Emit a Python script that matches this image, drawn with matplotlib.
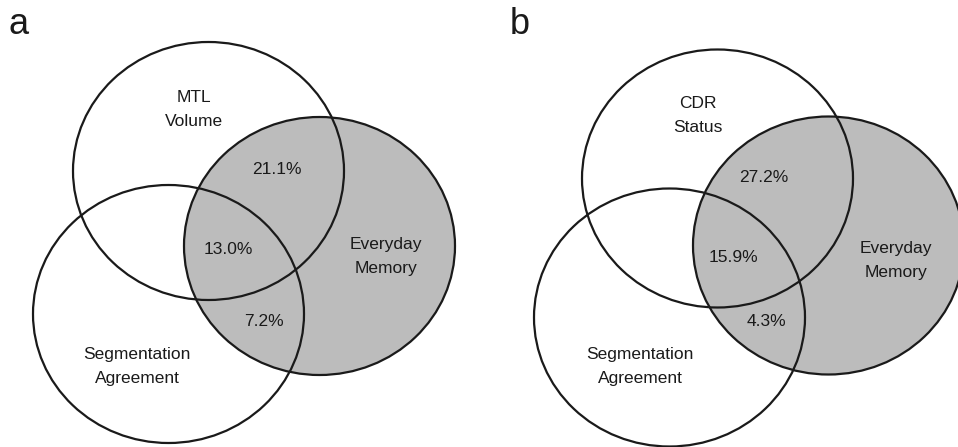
import matplotlib
matplotlib.use("Agg")
import matplotlib.pyplot as plt
from matplotlib.patches import Ellipse

plt.rcParams["font.family"] = ["Liberation Sans Narrow", "Liberation Sans", "DejaVu Sans"]

# ---------------------------------------------------------------- data
PANELS = ["a", "b"]
SET_TOP = ["MTL\nVolume", "CDR\nStatus"]
SET_RIGHT = "Everyday\nMemory"
SET_LEFT = "Segmentation\nAgreement"
PCT_TOP_RIGHT = ["21.1%", "27.2%"]     # top ∩ everyday memory
PCT_CENTER = ["13.0%", "15.9%"]        # all three
PCT_LEFT_RIGHT = ["7.2%", "4.3%"]      # segmentation ∩ everyday memory

# --------------------------------------------------------- layout (px)
W, H = 958, 447
ELL_W, ELL_H = 271, 258
# per panel: centres of (top, right/gray, left) ellipses
CENTRES = [
    [(208.5, 171), (319.5, 246), (168.5, 314)],
    [(717.5, 178.5), (828.5, 245.5), (669.5, 317.5)],
]
PANEL_XY = [(19, 34), (520, 34)]       # baseline of panel letters
TOP_TXT = [(194, 109), (698, 116)]
RIGHT_TXT = [(386, 256), (896, 261)]
LEFT_TXT = [(137, 366), (640, 366)]
TR_TXT = [(277, 169), (764, 177)]
C_TXT = [(228, 249), (733, 257)]
LR_TXT = [(264, 322), (766, 322)]

GRAY = "#bcbcbc"
LW = 1.6
FS = 12.5

fig = plt.figure(figsize=(W / 100, H / 100), dpi=100)
ax = fig.add_axes([0, 0, 1, 1])
ax.set_xlim(0, W)
ax.set_ylim(H, 0)
ax.axis("off")

for i, panel in enumerate(PANELS):
    top, right, left = CENTRES[i]
    # gray filled set underneath, then all outlines on top
    ax.add_patch(Ellipse(right, ELL_W, ELL_H, facecolor=GRAY, edgecolor="none"))
    for c in (top, right, left):
        ax.add_patch(Ellipse(c, ELL_W, ELL_H, facecolor="none",
                             edgecolor="#1a1a1a", lw=LW))

    ax.text(*PANEL_XY[i], panel, fontsize=26, ha="center", va="baseline",
            color="#1a1a1a")
    kw = dict(fontsize=FS, ha="center", va="center", color="#1a1a1a",
              linespacing=1.75)
    ax.text(*TOP_TXT[i], SET_TOP[i], **kw)
    ax.text(*RIGHT_TXT[i], SET_RIGHT, **kw)
    ax.text(*LEFT_TXT[i], SET_LEFT, **kw)
    ax.text(*TR_TXT[i], PCT_TOP_RIGHT[i], **kw)
    ax.text(*C_TXT[i], PCT_CENTER[i], **kw)
    ax.text(*LR_TXT[i], PCT_LEFT_RIGHT[i], **kw)

fig.savefig("out.png", dpi=100)
